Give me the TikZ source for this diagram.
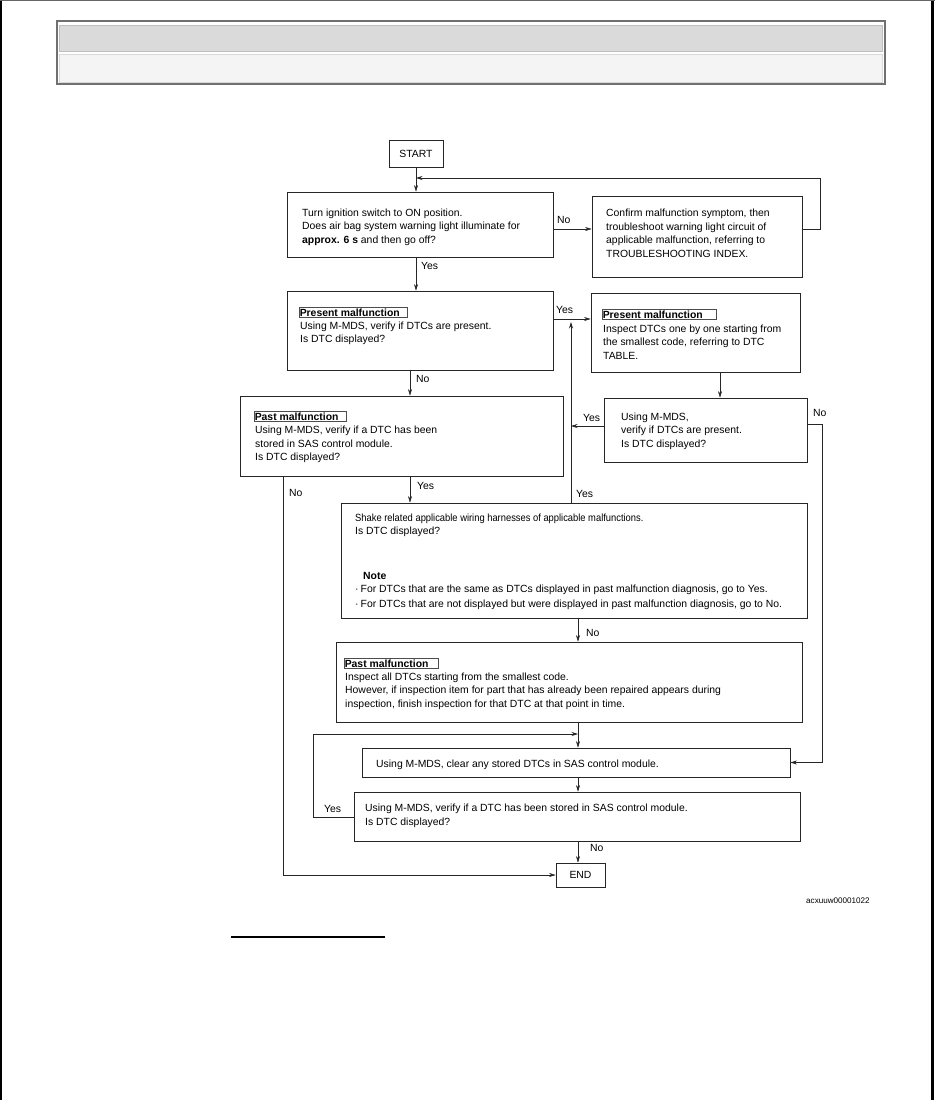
\documentclass[tikz,border=0pt]{standalone}
\usepackage{fontspec}
\usepackage{graphicx}
\setmainfont{Liberation Sans}
\usetikzlibrary{arrows.meta}
\definecolor{hdrA}{HTML}{DADADA}
\definecolor{hdrB}{HTML}{F4F4F4}
\definecolor{hdrEdge}{HTML}{707070}
\begin{document}
\begin{tikzpicture}[x=1pt,y=-1pt,
 box/.style={draw=black!85, line width=0.7pt, inner sep=0pt, rectangle},
 txt/.style={anchor=north west, inner sep=0pt, align=left, font=\fontsize{10.4}{13.5}\selectfont},
 lbl/.style={anchor=base west, inner sep=0pt, font=\fontsize{10.4}{12}\selectfont},
 tag/.style={draw=black!70, line width=0.5pt, inner xsep=1pt, inner ysep=1.2pt, anchor=base west, font=\fontsize{10.4}{12}\selectfont\bfseries},
 conn/.style={draw=black!85, line width=0.6pt},
 arr/.style={conn, -{Stealth[length=6.5pt,width=4pt]}},
]
% page frame
\useasboundingbox (0,0) rectangle (935,1100);
\fill[white] (0,0) rectangle (935,1100);
\fill[black] (0,0) rectangle (2,1100);
\fill[black] (931,0) rectangle (934,1100);
\fill[black!60] (0,0) rectangle (935,1);
% header
\fill[white] (57,21) rectangle (885,84);
\draw[hdrEdge, line width=1.5pt] (57,21) rectangle (885,84);
\filldraw[fill=hdrA, draw=black!25, line width=0.8pt] (59.5,25) rectangle (882,51);
\filldraw[fill=hdrB, draw=black!15, line width=0.8pt] (59.5,54) rectangle (882,82);

% boxes
\node[box, minimum width=54pt, minimum height=27pt, font=\fontsize{10.4}{12}\selectfont] (start) at (416,153.5) {START};
\node[box, minimum width=266pt, minimum height=65pt] (b1) at (420,224.5) {};
\node[box, minimum width=210pt, minimum height=81pt] (b2) at (697,236.5) {};
\node[box, minimum width=266pt, minimum height=79pt] (b3) at (420,330.5) {};
\node[box, minimum width=209pt, minimum height=79pt] (b4) at (695.5,332.5) {};
\node[box, minimum width=203pt, minimum height=64pt] (b5) at (705.5,430) {};
\node[box, minimum width=323pt, minimum height=80pt] (b6) at (401.5,436) {};
\node[box, minimum width=466pt, minimum height=115pt] (shake) at (574,560.5) {};
\node[box, minimum width=466pt, minimum height=80pt] (past2) at (569,682) {};
\node[box, minimum width=428pt, minimum height=29pt] (clear) at (576,762.5) {};
\node[box, minimum width=446pt, minimum height=49pt] (verify) at (577,816.5) {};
\node[box, minimum width=49pt, minimum height=24pt, font=\fontsize{10.4}{12}\selectfont] (end) at (580.5,875) {END};

% texts
\node[txt] (t1) at (302,208.5) {Turn ignition switch to ON position.\\Does air bag system warning light illuminate for\\\textbf{approx. 6 s} and then go off?};
\node[txt] (t2) at (606,209) {Confirm malfunction symptom, then\\troubleshoot warning light circuit of\\applicable malfunction, referring to\\TROUBLESHOOTING INDEX.};
\node[tag] (g3) at (298.5,316) {Present malfunction\kern7pt};
\node[txt] (t3) at (300,321.5) {Using M-MDS, verify if DTCs are present.\\Is DTC displayed?};
\node[tag] (g4) at (601.5,318) {Present malfunction\kern13pt};
\node[txt] (t4) at (603,324.5) {Inspect DTCs one by one starting from\\the smallest code, referring to DTC\\TABLE.};
\node[txt] (t5) at (621,412.5) {Using M-MDS,\\verify if DTCs are present.\\Is DTC displayed?};
\node[tag] (g6) at (253.5,420) {Past malfunction\kern7pt};
\node[txt] (t6) at (255,426) {Using M-MDS, verify if a DTC has been\\stored in SAS control module.\\Is DTC displayed?};
\node[txt] (t7) at (355,513.5) {\scalebox{0.9}[1]{Shake related applicable wiring harnesses of applicable malfunctions.}\\Is DTC displayed?};
\node[lbl, font=\fontsize{10.4}{12}\selectfont\bfseries] (note) at (363,579) {Note};
\node[lbl] (n1) at (355,592) {·\hspace{2pt}For DTCs that are the same as DTCs displayed in past malfunction diagnosis, go to Yes.};
\node[lbl] (n2) at (355,607) {·\hspace{2pt}For DTCs that are not displayed but were displayed in past malfunction diagnosis, go to No.};
\node[tag] (g8) at (343.5,667) {Past malfunction\kern9pt};
\node[txt] (t8) at (345,672.5) {Inspect all DTCs starting from the smallest code.\\However, if inspection item for part that has already been repaired appears during\\inspection, finish inspection for that DTC at that point in time.};
\node[lbl] (t9) at (376,767) {Using M-MDS, clear any stored DTCs in SAS control module.};
\node[txt, font=\fontsize{10.4}{14}\selectfont] (t10) at (365,803.5) {Using M-MDS, verify if a DTC has been stored in SAS control module.\\Is DTC displayed?};

% connector labels
\node[lbl] (l1) at (557,223) {No};
\node[lbl] (l2) at (421,269) {Yes};
\node[lbl] (l3) at (556,313) {Yes};
\node[lbl] (l4) at (416,382) {No};
\node[lbl] (l5) at (583,421) {Yes};
\node[lbl] (l6) at (813,416) {No};
\node[lbl] (l7) at (289,496) {No};
\node[lbl] (l8) at (417,489) {Yes};
\node[lbl] (l9) at (576,497) {Yes};
\node[lbl] (l10) at (586,636) {No};
\node[lbl] (l11) at (324,812) {Yes};
\node[lbl] (l12) at (590,851) {No};

% coordinates
\coordinate (r1) at (553,229);
\coordinate (loopR) at (820,178);
\coordinate (r3) at (553,319);
\coordinate (c3) at (410,0);
\coordinate (c5) at (720,0);
\coordinate (vy) at (571,0);
\coordinate (r5) at (604,426);
\coordinate (r5n) at (822,424);
\coordinate (c6) at (283,0);
\coordinate (cb) at (578,0);
\coordinate (vl) at (313,817);
\coordinate (vt) at (313,734);

% connectors
\draw[arr] (start.south) -- (start.south |- b1.north);
\draw[arr] (b1.east |- r1) -- (b2.west |- r1);
\draw[arr] (b2.east |- r1) -- (loopR |- r1) -- (loopR) -- (start.south |- loopR);
\draw[arr] (start.south |- b1.south) -- (start.south |- b3.north);
\draw[arr] (b3.east |- r3) -- (b4.west |- r3);
\draw[arr] (c3 |- b3.south) -- (c3 |- b6.north);
\draw[arr] (c5 |- b4.south) -- (c5 |- b5.north);
\draw[arr] (b5.west |- r5) -- (vy |- r5);
\draw[arr] (vy |- shake.north) -- (571,322);
\draw[arr] (b5.east |- r5n) -- (r5n) -- (r5n |- clear.east) -- (clear.east);
\draw[arr] (c6 |- b6.south) -- (c6 |- end.west) -- (end.west);
\draw[arr] (c3 |- b6.south) -- (c3 |- shake.north);
\draw[arr] (cb |- shake.south) -- (cb |- past2.north);
\draw[arr] (cb |- past2.south) -- (cb |- clear.north);
\draw[arr] (verify.west |- vl) -- (vl) -- (vt) -- (cb |- vt);
\draw[arr] (cb |- clear.south) -- (cb |- verify.north);
\draw[arr] (cb |- verify.south) -- (cb |- end.north);

% figure id and rule
\node[anchor=west, inner sep=0pt, font=\fontsize{8.1}{9}\selectfont] (fid) at (806,901) {acxuuw00001022};
\draw[black, line width=1.2pt] (231,937) -- (385,937);
\end{tikzpicture}
\end{document}
